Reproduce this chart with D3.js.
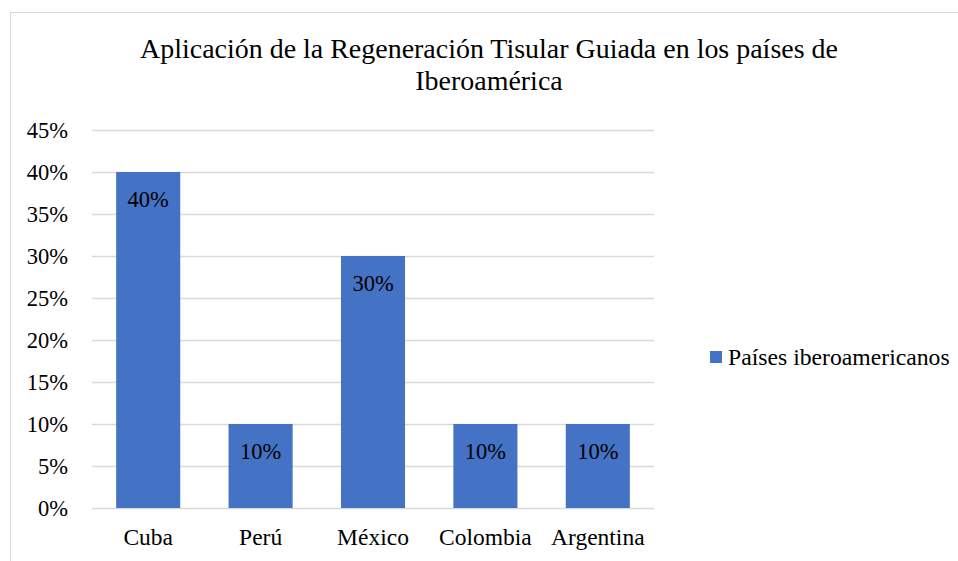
<!DOCTYPE html>
<html><head><meta charset="utf-8">
<script src="https://cdn.jsdelivr.net/npm/d3@7"></script>
<style>body{margin:0;background:#fff}svg{display:block}</style>
</head><body><svg id="c" width="958" height="561" style="font-family:'Liberation Serif'"></svg>
<script>
const categories = ["Cuba","Perú","México","Colombia","Argentina"];
const values = [0.40,0.10,0.30,0.10,0.10];
const yTicks = [0,0.05,0.10,0.15,0.20,0.25,0.30,0.35,0.40,0.45];
const seriesName = "Países iberoamericanos";
const titleLines = ["Aplicación de la Regeneración Tisular Guiada en los países de","Iberoamérica"];

const FF = "Liberation Serif";
const svg = d3.select("#c");
svg.append("rect").attr("x",10.5).attr("y",12.5).attr("width",960).attr("height",560)
  .attr("fill","none").attr("stroke","#d9d9d9").attr("stroke-width",1);

const x = d3.scaleBand().domain(categories).range([92,654]).paddingInner(0.43).paddingOuter(0.215);
const y = d3.scaleLinear().domain([0,0.45]).range([508,130]);

svg.selectAll("line.grid").data(yTicks).enter().append("line")
  .attr("x1",92).attr("x2",654).attr("y1",d=>Math.round(y(d))+0.5).attr("y2",d=>Math.round(y(d))+0.5)
  .attr("stroke","#d9d9d9").attr("stroke-width",1.5);

const fmt = d3.format(".0%");
const yAxis = d3.axisLeft(y).tickValues(yTicks).tickFormat(fmt).tickSize(0).tickPadding(0);
const ya = svg.append("g").attr("transform","translate(68,0)").call(yAxis);
ya.attr("font-family",null).attr("font-size",null);
ya.select(".domain").remove();
ya.selectAll("text").attr("dy","0.34em").style("font-size","22.5px").style("fill","#000").style("font-family",FF);

svg.selectAll("rect.bar").data(values).enter().append("rect")
  .attr("x",(d,i)=>x(categories[i])).attr("width",x.bandwidth())
  .attr("y",d=>y(d)).attr("height",d=>y(0)-y(d)).attr("fill","#4472C4");

svg.selectAll("text.lbl").data(values).enter().append("text")
  .attr("x",(d,i)=>x(categories[i])+x.bandwidth()/2).attr("y",d=>y(d)+35)
  .attr("text-anchor","middle").style("font-size","22.5px").style("fill","#000").style("font-family",FF).text(d=>fmt(d));

const xAxis = d3.axisBottom(x).tickSize(0).tickPadding(0);
const xa = svg.append("g").attr("transform","translate(0,545)").call(xAxis);
xa.attr("font-family",null).attr("font-size",null);
xa.select(".domain").remove();
xa.selectAll("text").attr("dy",0).style("font-size","23.5px").style("fill","#000").style("font-family",FF);

const tt = svg.selectAll("text.title").data(titleLines).enter().append("text")
  .attr("x",489).attr("y",(d,i)=>58+i*32).attr("text-anchor","middle")
  .style("font-size","25px").style("fill","#000").style("font-family",FF).text(d=>d);
const w0 = tt.nodes()[0].getComputedTextLength();
if (w0 > 0) tt.style("font-size", (25*698/w0).toFixed(2)+"px");

svg.append("rect").attr("x",710).attr("y",351).attr("width",12).attr("height",12).attr("fill","#4472C4");
svg.append("text").attr("x",728).attr("y",365).style("font-size","23.7px").style("fill","#000").style("font-family",FF).text(seriesName);
</script></body></html>
